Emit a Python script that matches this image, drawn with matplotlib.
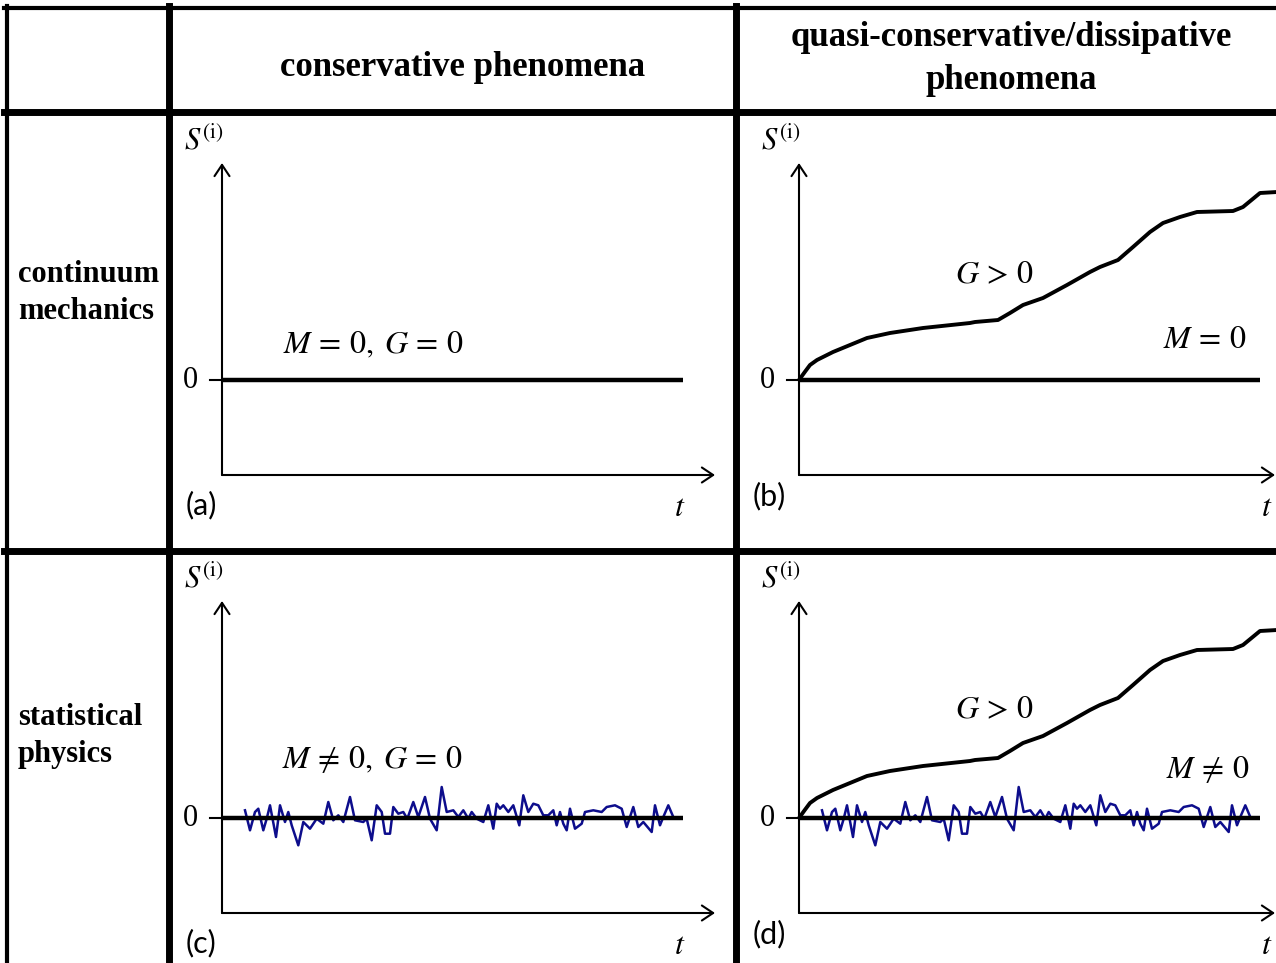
import matplotlib.pyplot as plt
import numpy as np

plt.rcParams['mathtext.fontset'] = 'stix'

# Entropy production S^(i) curve for dissipative panels (b) and (d)
growth_t = [0.0, 0.06, 0.11, 0.18, 0.34, 0.51, 0.68, 0.91, 1.24, 1.71, 1.76, 1.99, 2.11, 2.24,
            2.44, 2.68, 2.91, 3.01, 3.19, 3.34, 3.51, 3.64, 3.81, 3.98, 4.34, 4.44, 4.61, 4.78]
growth_s = [0.0, 0.083, 0.15, 0.20, 0.28, 0.35, 0.42, 0.47, 0.52, 0.57, 0.58, 0.60, 0.67, 0.75,
            0.82, 0.95, 1.08, 1.13, 1.20, 1.33, 1.48, 1.57, 1.63, 1.68, 1.69, 1.73, 1.87, 1.88]

# Fluctuation term M for the statistical-physics panels (c) and (d)
noise_t = [0.23, 0.28, 0.33, 0.363, 0.413, 0.447, 0.48, 0.54, 0.58, 0.63, 0.663, 0.697,
           0.763, 0.813, 0.88, 0.947, 1.013, 1.063, 1.113, 1.163, 1.213, 1.28, 1.33, 1.413,
           1.447, 1.497, 1.547, 1.597, 1.63, 1.68, 1.713, 1.763, 1.813, 1.853, 1.913, 1.963,
           2.03, 2.08, 2.147, 2.197, 2.247, 2.313, 2.363, 2.413, 2.463, 2.497, 2.547, 2.613,
           2.663, 2.713, 2.747, 2.78, 2.813, 2.863, 2.913, 2.973, 3.013, 3.063, 3.113, 3.163,
           3.213, 3.263, 3.313, 3.347, 3.38, 3.413, 3.447, 3.48, 3.53, 3.597, 3.63, 3.713,
           3.797, 3.847, 3.93, 3.997, 4.047, 4.113, 4.163, 4.213, 4.297, 4.33, 4.38, 4.413,
           4.463, 4.513]
noise_s = [0.077, -0.123, 0.06, 0.093, -0.123, -0.007, 0.127, -0.19, 0.127, -0.04, 0.06, -0.073,
           -0.273, -0.04, -0.107, -0.007, -0.057, 0.16, -0.023, 0.027, -0.04, 0.21, -0.023, -0.04,
           -0.007, -0.223, 0.127, 0.06, -0.157, -0.157, 0.11, 0.043, 0.06, -0.007, 0.16, 0.01,
           0.21, -0.007, -0.123, 0.31, 0.06, 0.077, 0.01, 0.077, -0.007, 0.06, -0.007, -0.04,
           0.127, -0.107, 0.143, 0.093, 0.127, 0.06, 0.127, -0.073, 0.227, 0.06, 0.143, 0.127,
           0.027, 0.027, 0.077, -0.073, 0.06, -0.057, -0.123, 0.093, -0.107, -0.057, 0.06, 0.077,
           0.06, 0.11, 0.127, 0.093, -0.09, 0.11, -0.09, -0.04, -0.14, 0.127, -0.073, 0.01,
           0.127, 0.01]

zero_span = [0.0, 4.61]

col_headers = ['conservative phenomena', 'quasi-conservative/dissipative\nphenomena']
row_headers = ['continuum\nmechanics', 'statistical\nphysics']
panel_tags = ['(a)', '(b)', '(c)', '(d)']
panel_notes = [[(r'$M\,=\,0,\;G\,=\,0$', 1.51, 0.35)],
               [(r'$G\,>\,0$', 1.96, 1.05), (r'$M\,=\,0$', 4.06, 0.40)],
               [(r'$M\,\neq\,0,\;G\,=\,0$', 1.50, 0.58)],
               [(r'$G\,>\,0$', 1.96, 1.08), (r'$M\,\neq\,0$', 4.09, 0.48)]]

W, H = 1276, 963
fig = plt.figure(figsize=(W / 100, H / 100), dpi=100)

# table grid drawn in pixel coordinates on a background axes
bg = fig.add_axes([0, 0, 1, 1])
bg.set_xlim(0, W)
bg.set_ylim(H, 0)
bg.axis('off')
bg.plot([4, W], [8, 8], color='k', lw=3.0)
bg.plot([7, 7], [6, H], color='k', lw=3.0)
bg.plot([168.5, 168.5], [6, H], color='k', lw=5.0)
bg.plot([735.5, 735.5], [6, H], color='k', lw=5.0)
bg.plot([4, W], [112, 112], color='k', lw=5.0)
bg.plot([4, W], [551, 551], color='k', lw=5.0)

head_font = dict(family='Liberation Serif', weight='bold')
bg.text(463, 68, col_headers[0], ha='center', va='center', fontsize=25, **head_font)
bg.text(1011, 59, col_headers[1], ha='center', va='center', linespacing=1.38,
        fontsize=25, **head_font)
bg.text(18, 293, row_headers[0], ha='left', va='center', linespacing=1.4,
        fontsize=22, **head_font)
bg.text(18, 736, row_headers[1], ha='left', va='center', linespacing=1.4,
        fontsize=22, **head_font)

# panels: [left px, axis-bottom px, width px]
panels = [(222, 475, 493), (799, 475, 476), (222, 913, 493), (799, 913, 476)]
ylo, yhi = -0.95, 2.17
arrow = dict(arrowstyle='->,head_length=0.45,head_width=0.3', lw=1.5, color='k',
             shrinkA=0, shrinkB=0, mutation_scale=18)

for i, (left, base, width) in enumerate(panels):
    h = (yhi - ylo) * 100
    ax = fig.add_axes([left / W, 1 - base / H, width / W, h / H])
    ax.set_xlim(0, width / 100)
    ax.set_ylim(ylo, yhi)
    ax.axis('off')
    ax.patch.set_visible(False)

    ax.annotate('', xy=(1, 0), xytext=(0, 0), xycoords='axes fraction', arrowprops=arrow)
    ax.annotate('', xy=(0, 1), xytext=(0, 0), xycoords='axes fraction', arrowprops=arrow)

    ax.plot([-0.12, 0], [0, 0], color='k', lw=1.5, clip_on=False)
    ax.plot(zero_span, [0, 0], color='k', lw=3.2, solid_capstyle='butt', zorder=3)

    if i >= 2:
        ax.plot(noise_t, noise_s, color='#0d0d8c', lw=1.8, zorder=2)
    if i % 2 == 1:
        ax.plot(growth_t, growth_s, color='k', lw=2.8, solid_capstyle='butt',
                solid_joinstyle='round', clip_on=False, zorder=4)

    ax.text(-0.32, 0, '0', ha='center', va='center', fontsize=22, family='Liberation Serif')
    ax.text(-0.18, 2.40, r'$S^{(\mathrm{i})}$', ha='center', va='center', fontsize=22)
    tag_y = -1.25 if i % 2 == 0 else -1.16
    ax.text(-0.21 if i % 2 == 0 else -0.30, tag_y, panel_tags[i], ha='center', va='center',
            fontsize=22, family='Lato')
    ax.text(width / 100 - 0.35 if i % 2 == 0 else width / 100 - 0.08, -1.27, r'$t$',
            ha='center', va='center', fontsize=23)
    for txt, tx, ty in panel_notes[i]:
        ax.text(tx, ty, txt, ha='center', va='center', fontsize=23)

fig.savefig('out.png', dpi=100)
